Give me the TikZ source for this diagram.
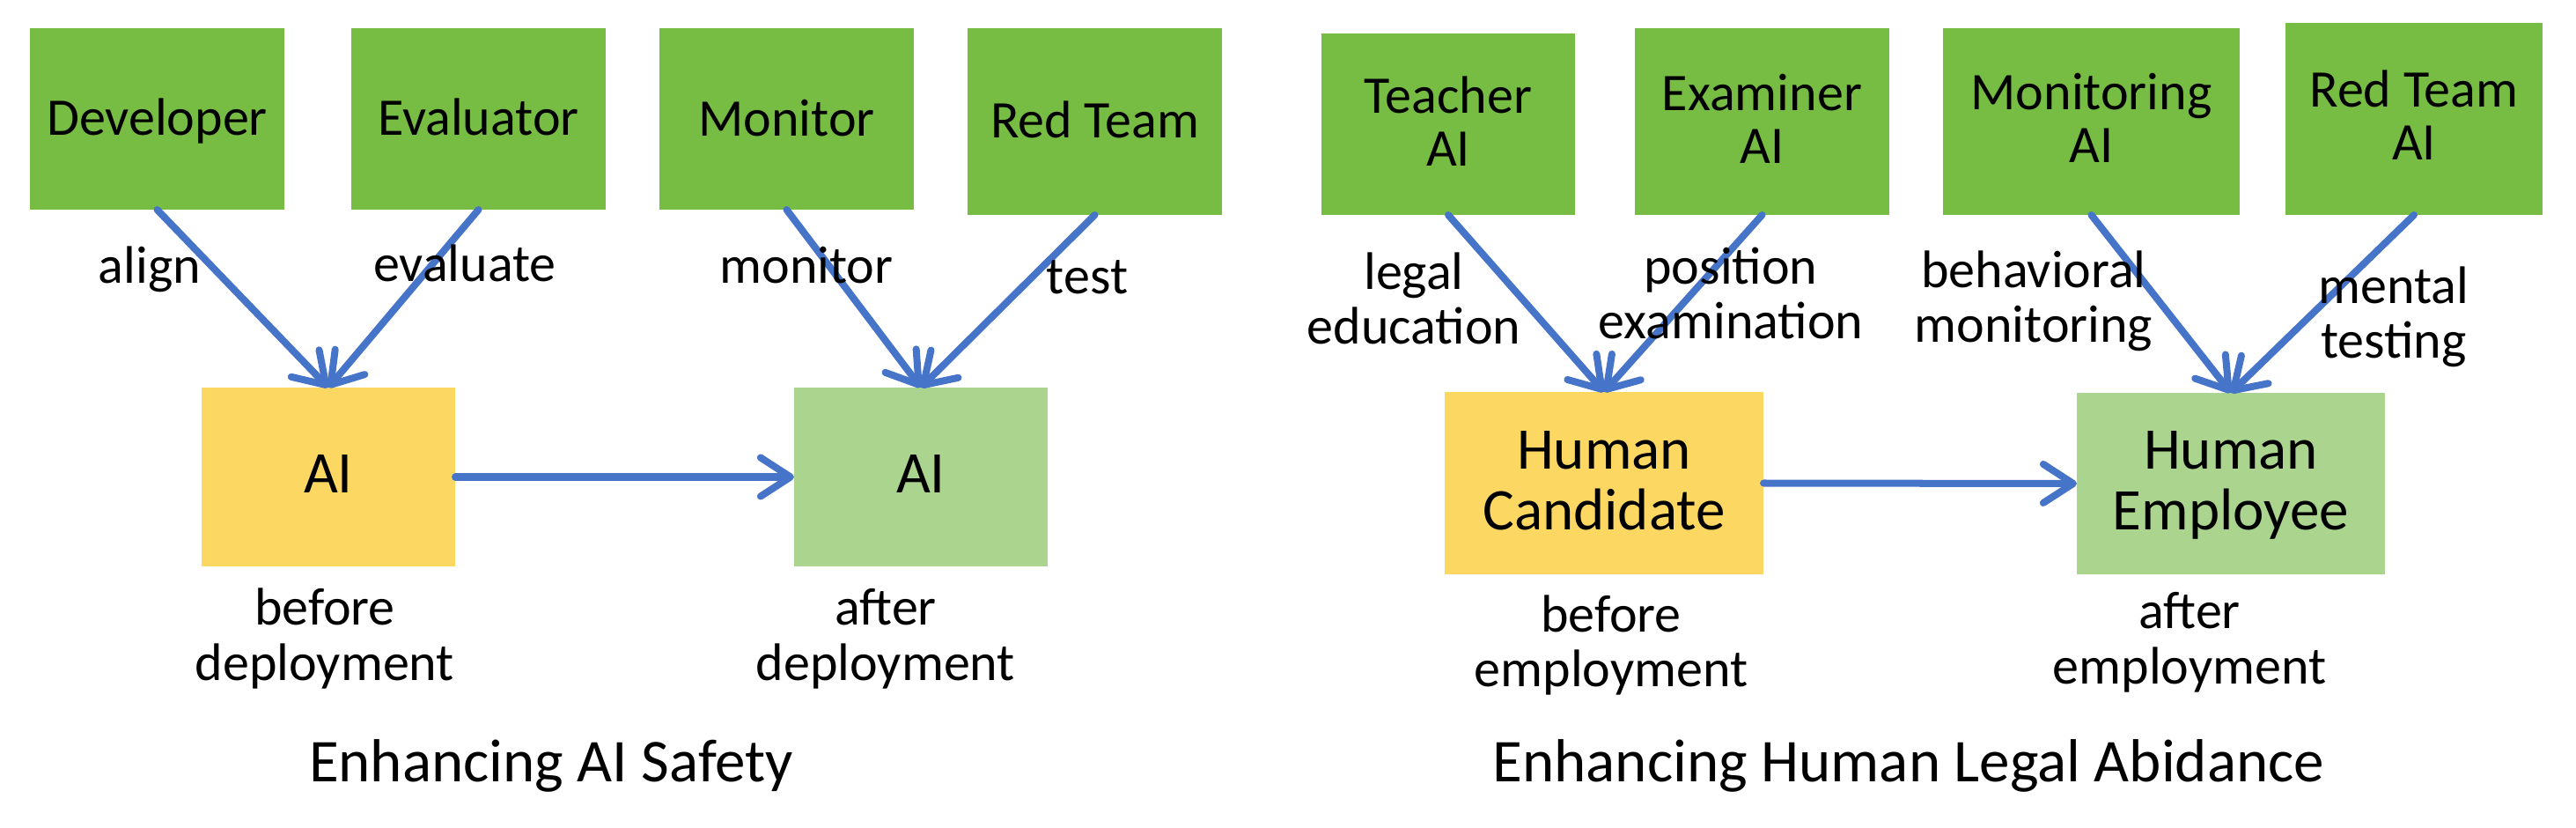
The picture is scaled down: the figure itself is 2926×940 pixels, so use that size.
\documentclass[tikz,border=0pt]{standalone}
\usepackage{fontspec}
\setmainfont{Carlito}
\usetikzlibrary{arrows.meta}
\definecolor{cgreen}{RGB}{119,188,67}
\definecolor{cyellow}{RGB}{252,216,98}
\definecolor{clgreen}{RGB}{171,213,143}
\definecolor{cblue}{RGB}{70,116,200}
\tikzset{
  box/.style={inner sep=0pt, outer sep=0pt, draw=none},
  gbox/.style={box, fill=cgreen},
  ybox/.style={box, fill=cyellow},
  lbox/.style={box, fill=clgreen},
  arr/.style={draw=cblue, line width=0.08cm, line cap=round,
    -{Straight Barb[length=0.34cm, width=0.44cm, round]}},
  txt/.style={font=\fontsize{17.07}{17.07}\selectfont, inner sep=0pt, align=center, anchor=base},
  bigtxt/.style={font=\fontsize{19.06}{19.8}\selectfont, inner sep=0pt, align=center, anchor=base},
  lbl/.style={font=\fontsize{17.07}{17.64}\selectfont, inner sep=0pt, align=center, anchor=base},
  ttl/.style={font=\fontsize{19.63}{20}\selectfont, inner sep=0pt, anchor=base},
}
\begin{document}
\begin{tikzpicture}[x=0.01cm, y=-0.01cm]
\useasboundingbox (0,0) rectangle (2926,940);

% ---------- left panel ----------
\node[gbox, minimum width=2.89cm, minimum height=2.06cm] (dev) at (178.5,135) {};
\node[gbox, minimum width=2.89cm, minimum height=2.06cm] (eva) at (543.5,135) {};
\node[gbox, minimum width=2.89cm, minimum height=2.06cm] (mon) at (893.5,135) {};
\node[gbox, minimum width=2.89cm, minimum height=2.12cm] (red) at (1243.5,138) {};
\node[ybox, minimum width=2.88cm, minimum height=2.03cm] (ai1) at (373,541.5) {};
\node[lbox, minimum width=2.88cm, minimum height=2.03cm] (ai2) at (1046,541.5) {};

\node[txt] (devt) at (178.5,154) {Developer};
\node[txt] (evat) at (543.5,154) {Evaluator};
\node[txt] (mont) at (893.5,155) {Monitor};
\node[txt] (redt) at (1243.5,157) {Red Team};
\node[bigtxt] (ai1t) at (373,560) {AI};
\node[bigtxt] (ai2t) at (1046,560) {AI};

\draw[arr] (dev.south) -- (ai1.north);
\draw[arr] (eva.south) -- (ai1.north);
\draw[arr] (mon.south) -- (ai2.north);
\draw[arr] (red.south) -- (ai2.north);
\draw[arr] (ai1.east) -- (ai2.west);

\node[lbl] (l1) at (170,322) {align};
\node[lbl] (l2) at (528,320) {evaluate};
\node[lbl] (l3) at (916,322) {monitor};
\node[lbl] (l4) at (1235,334) {test};
\node[lbl] (l5) at (369,772) {before\\deployment};
\node[lbl] (l6) at (1006,772) {after\\deployment};
\node[ttl] (t1) at (626,887) {Enhancing AI Safety};

% ---------- right panel ----------
\node[gbox, minimum width=2.88cm, minimum height=2.06cm] (tea) at (1645,141) {};
\node[gbox, minimum width=2.89cm, minimum height=2.12cm] (exa) at (2001.5,138) {};
\node[gbox, minimum width=3.37cm, minimum height=2.12cm] (moni) at (2375.5,138) {};
\node[gbox, minimum width=2.92cm, minimum height=2.18cm] (rta) at (2742,135) {};
\node[ybox, minimum width=3.62cm, minimum height=2.07cm] (hc) at (1822,548.5) {};
\node[lbox, minimum width=3.50cm, minimum height=2.06cm] (he) at (2534,549) {};

\node[txt] (teat) at (1645,189) {Teacher\\AI};
\node[txt] (exat) at (2001.5,186) {Examiner\\AI};
\node[txt] (monit) at (2375.5,185) {Monitoring\\AI};
\node[txt] (rtat) at (2742,182) {Red Team\\AI};
\node[bigtxt] (hct) at (1822,602) {Human\\Candidate};
\node[bigtxt] (het) at (2534,602) {Human\\Employee};

\draw[arr] (tea.south) -- (hc.north);
\draw[arr] (exa.south) -- (hc.north);
\draw[arr] (moni.south) -- (he.north);
\draw[arr] (rta.south) -- (he.north);
\draw[arr] (hc.east) -- (he.west);

\node[lbl] (r1) at (1606,391) {legal\\education};
\node[lbl] (r2) at (1966,385) {position\\examination};
\node[lbl] (r3) at (2310,389) {behavioral\\monitoring};
\node[lbl] (r4) at (2719,407) {mental\\testing};
\node[lbl] (r5) at (1830,780) {before\\employment};
\node[lbl] (r6) at (2487,776) {after\\employment};
\node[ttl] (t2) at (2168,887) {Enhancing Human Legal Abidance};
\end{tikzpicture}
\end{document}
